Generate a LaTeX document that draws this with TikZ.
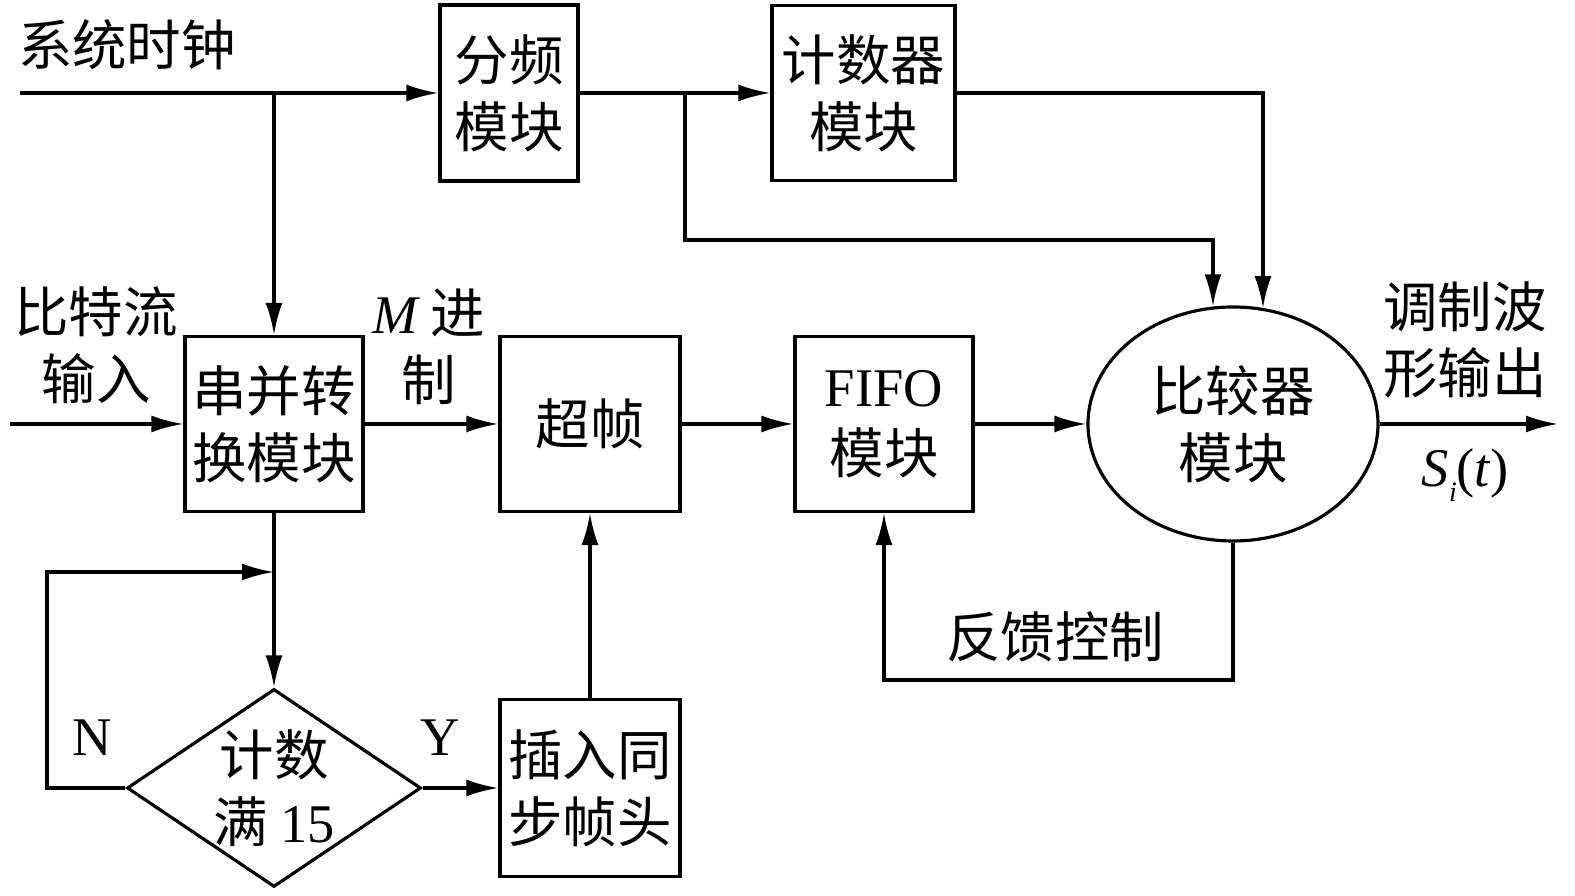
\documentclass[tikz,border=0pt]{standalone}
\usepackage{fontspec}
\setmainfont{Liberation Serif}
\newfontfamily\cjk{Noto Sans CJK SC}
\usetikzlibrary{shapes.geometric,arrows.meta}

\begin{document}
\begin{tikzpicture}[>={Latex[length=3.2mm,width=1.7mm]}, line width=0.9pt,
    block/.style={draw, rectangle, align=center, inner sep=0pt, font=\fontsize{15.5}{19}\selectfont\cjk},
    lab/.style={align=center, inner sep=0pt, font=\fontsize{15.5}{19}\selectfont\cjk}]
    \useasboundingbox (0,0) rectangle (15.75,8.96);

    % 模块
    \node[block, minimum width=1.38cm, minimum height=1.76cm] (fenpin) at (5.09,8.03) {分频\\模块};
    \node[block, minimum width=1.83cm, minimum height=1.75cm] (jishuqi) at (8.635,8.03) {计数器\\模块};
    \node[block, minimum width=1.78cm, minimum height=1.75cm] (chuanbing) at (2.74,4.72) {串并转\\换模块};
    \node[block, minimum width=1.80cm, minimum height=1.75cm] (chaozhen) at (5.90,4.72) {超帧};
    \node[block, minimum width=1.78cm, minimum height=1.75cm] (fifo) at (8.84,4.72) {{\rmfamily FIFO}\\模块};
    \node[block, ellipse, minimum width=2.9cm, minimum height=2.34cm] (bijiao) at (12.33,4.72) {比较器\\模块};
    \node[block, diamond, inner sep=-3mm, minimum width=2.94cm, minimum height=1.98cm] (jishu) at (2.74,1.08) {计数\\满 {\rmfamily 15}};
    \node[block, minimum width=1.80cm, minimum height=1.77cm] (charu) at (5.90,1.08) {插入同\\步帧头};

    % 文字
    \node[lab] (clk) at (1.27,8.51) {系统时钟};
    \node[lab] (bit) at (0.96,5.51) {比特流\\输入};
    \node[lab] (mjz) at (4.29,5.49) {{\rmfamily\itshape M} 进\\制};
    \node[lab] (tzbx) at (14.65,5.56) {调制波\\形输出};
    \node[lab] (si) at (14.65,4.21) {\rmfamily\itshape S\raisebox{-0.6ex}{\footnotesize i}\upshape(\itshape t\upshape)};
    \node[lab] (fk) at (10.55,2.59) {反馈控制};
    \node[lab] (nlab) at (0.92,1.58) {\rmfamily N};
    \node[lab] (ylab) at (4.40,1.58) {\rmfamily Y};

    % 端点
    \coordinate (clkin) at (0.20,8.03);
    \coordinate (br1) at (2.74,8.03);
    \coordinate (br2) at (6.85,8.03);
    \coordinate (k1) at (12.13,6.56);
    \coordinate (k2) at (12.63,8.03);
    \coordinate (bitin) at (0.10,4.72);
    \coordinate (out) at (15.58,4.72);
    \coordinate (fb) at (8.84,2.16);
    \coordinate (loopL) at (0.47,3.24);
    \coordinate (loopR) at (2.74,3.24);

    % 时钟连接
    \draw[->] (clkin) -- (fenpin.west);
    \draw[->] (br1) -- (chuanbing.north);
    \draw[->] (fenpin.east) -- (jishuqi.west);
    \draw[->] (br2) |- (k1) -- (k1 |- bijiao.99.8);
    \draw[->] (jishuqi.east) -- (k2) -- (k2 |- bijiao.75.3);

    % 数据通路
    \draw[->] (bitin) -- (chuanbing.west);
    \draw[->] (chuanbing) -- (chaozhen);
    \draw[->] (chaozhen) -- (fifo);
    \draw[->] (fifo) -- (bijiao);
    \draw[->] (bijiao.east) -- (out);
    \draw[->] (bijiao.south) |- (fb) -- (fifo.south);

    % 计数判断
    \draw[->] (chuanbing.south) -- (jishu.north);
    \draw[->] (jishu.west) -| (loopL) -- (loopR);
    \draw[->] (jishu.east) -- (charu.west);
    \draw[->] (charu.north) -- (chaozhen.south);
\end{tikzpicture}
\end{document}
